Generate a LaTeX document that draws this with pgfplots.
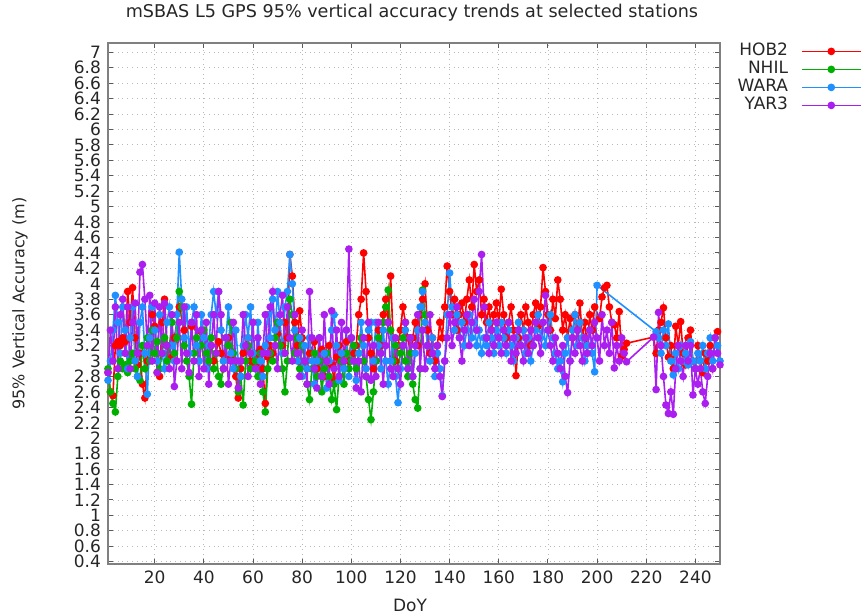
\documentclass[border=0pt]{standalone}
\usepackage{pgfplots}
\pgfplotsset{compat=1.18}
\usepackage{fontspec}
\setmainfont{DejaVu Sans}
\definecolor{cHOB}{RGB}{255,0,0}
\definecolor{cNHIL}{RGB}{0,176,0}
\definecolor{cWARA}{RGB}{30,144,255}
\definecolor{cYAR}{RGB}{170,30,240}
\begin{document}
\begin{tikzpicture}
\path[use as bounding box] (-54pt,-26pt) rectangle (378pt,282pt);
\begin{axis}[
  at={(0,0)}, anchor=south west,
  scale only axis, width=306pt, height=260.5pt,
  xmin=1, xmax=250, ymin=0.37, ymax=7.12,
  xtick={20,40,...,240},
  ytick={0.4,0.6,0.8,1,1.2,1.4,1.6,1.8,2,2.2,2.4,2.6,2.8,3,3.2,3.4,3.6,3.8,4,4.2,4.4,4.6,4.8,5,5.2,5.4,5.6,5.8,6,6.2,6.4,6.6,6.8,7},
  tick align=inside, major tick length=2.5pt,
  tick style={gray!70!black, line width=0.5pt},
  axis line style={gray, line width=0.8pt},
  grid=major, major grid style={gray!55, dotted, line width=0.4pt},
  /pgf/number format/assume math mode=true,
  ticklabel style={font=\fontsize{8.5}{10}\selectfont, text=black!85},
  title={mSBAS L5 GPS 95\% vertical accuracy trends at selected stations},
  every axis title/.style={at={(axis description cs:0.4967,1.0576)}, anchor=center, font=\fontsize{8.8}{10}\selectfont, text=black!85},
  xlabel={DoY},
  every axis x label/.style={at={(axis description cs:0.4935,-0.0787)}, anchor=center, font=\fontsize{8.5}{10}\selectfont, text=black!85},
  ylabel={95\% Vertical Accuracy (m)},
  every axis y label/.style={at={(axis description cs:-0.1438,0.5)}, rotate=90, anchor=center, font=\fontsize{8}{10}\selectfont, text=black!85},
  legend plot pos=right, legend cell align=right,
  legend style={at={(axis description cs:1,1)}, anchor=north east, xshift=71pt, yshift=0.5pt,
    draw=none, fill=none, inner sep=0pt, column sep=6.5pt, row sep=0pt,
    nodes={inner sep=0pt, text height=6.5pt, text depth=2.5pt, font=\fontsize{8.5}{10}\selectfont, text=black!85}},
  legend image code/.code={\draw[mark repeat=2, mark phase=2, #1] plot coordinates {(0pt,0pt) (14.75pt,0pt) (29.5pt,0pt)};},
  every axis plot/.append style={line width=0.8pt, mark=*, mark size=1.5pt},
]
\addplot[cHOB, mark options={fill=cHOB, draw=cHOB}] coordinates {
(1,2.85)(2,2.6)(3,2.55)(4,3.2)(5,3.25)(6,3.2)(7,3.3)(8,3.25)(9,3.9)(10,3.5)(11,3.95)(12,3.3)(13,2.95)(14,3.1)(15,2.7)(16,2.52)(17,3.0)(18,3.3)(19,3.6)(20,3.45)(21,2.85)(22,2.8)(23,3.5)(24,3.8)(25,3.2)(27,3.05)(28,3.3)(30,3.7)(32,3.4)(35,3.45)(43,3.2)(44,3.0)(46,3.25)(47,3.1)(48,2.9)(50,3.3)(51,3.05)(53,2.8)(54,2.52)(55,2.9)(56,3.1)(58,3.3)(59,3.0)(61,2.95)(62,3.1)(63,3.15)(64,2.9)(65,2.45)(66,3.05)(67,3.2)(68,3.1)(70,3.35)(72,3.2)(73,3.5)(74,3.3)(75,4.38)(76,4.1)(77,3.5)(78,3.2)(79,3.65)(80,3.3)(81,3.0)(82,2.9)(83,3.1)(85,3.25)(86,2.9)(87,3.0)(88,3.15)(89,2.8)(90,3.0)(91,3.2)(92,2.95)(93,2.75)(94,3.05)(95,3.2)(96,3.0)(97,3.1)(98,3.25)(99,3.0)(100,3.3)(101,3.1)(102,3.2)(103,3.6)(104,3.8)(105,4.4)(106,3.9)(107,3.3)(108,3.1)(109,2.9)(110,3.0)(111,3.4)(112,3.2)(113,3.6)(114,3.8)(115,3.5)(116,4.1)(117,3.3)(118,3.0)(119,3.2)(120,3.4)(121,3.7)(122,3.5)(123,3.3)(124,3.1)(125,3.3)(126,3.5)(127,3.2)(128,3.6)(129,3.8)(130,4.0)(131,3.4)(132,3.1)(133,3.3)(134,3.0)(135,3.2)(136,3.5)(137,3.3)(138,3.7)(139,4.23)(140,3.9)(141,3.6)(142,3.8)(143,3.4)(144,3.6)(145,3.75)(146,3.5)(147,3.8)(148,4.05)(149,3.7)(150,4.25)(151,3.9)(152,4.05)(153,3.6)(154,3.8)(155,3.5)(156,3.7)(157,3.4)(158,3.6)(159,3.75)(160,3.5)(161,3.93)(162,3.6)(163,3.3)(164,3.5)(165,3.7)(166,3.4)(167,2.81)(168,3.3)(169,3.6)(170,3.4)(171,3.7)(172,3.5)(173,3.2)(174,3.6)(175,3.75)(176,3.45)(177,3.7)(178,4.21)(179,3.9)(180,3.6)(181,3.4)(182,3.8)(183,3.55)(184,4.05)(185,3.8)(186,3.4)(187,3.6)(188,3.3)(189,3.55)(190,3.3)(191,3.6)(192,3.4)(193,3.75)(194,3.3)(195,3.5)(196,3.2)(197,3.6)(198,3.4)(199,3.7)(201,3.55)(202,3.83)(203,3.95)(204,3.98)(205,3.7)(206,3.5)(207,3.47)(208,3.3)(209,3.64)(210,3.06)(211,3.15)(212,3.23)(223,3.31)(224,3.1)(225,3.4)(226,3.5)(227,3.69)(228,3.3)(229,3.05)(230,3.2)(231,2.9)(232,3.45)(233,3.2)(234,3.51)(235,3.1)(236,2.95)(237,3.3)(238,3.4)(239,3.0)(240,2.9)(241,3.2)(242,3.0)(243,2.85)(244,3.1)(245,3.0)(246,3.2)(247,2.9)(248,3.3)(249,3.38)
};
\addlegendentry{HOB2}
\addplot[cNHIL, mark options={fill=cNHIL, draw=cNHIL}] coordinates {
(1,2.9)(2,2.6)(3,2.45)(4,2.34)(5,2.8)(6,3.0)(7,2.9)(8,2.95)(9,2.85)(10,3.0)(11,3.1)(12,2.9)(13,2.8)(14,2.75)(15,3.2)(16,2.9)(17,3.3)(18,3.0)(19,3.4)(20,3.1)(21,3.25)(22,2.9)(23,3.1)(24,3.3)(25,3.0)(26,3.2)(27,3.5)(28,3.1)(29,3.3)(30,3.9)(31,3.7)(32,3.2)(33,3.0)(34,2.8)(35,2.44)(36,3.1)(37,3.3)(38,3.0)(39,3.2)(40,3.4)(41,3.1)(42,3.0)(43,3.3)(44,2.9)(45,3.1)(46,2.8)(47,2.7)(48,3.0)(49,3.3)(50,3.2)(51,3.5)(52,3.1)(53,2.9)(54,2.6)(55,2.8)(56,2.43)(57,3.0)(58,3.2)(59,2.9)(60,3.1)(61,3.0)(62,2.8)(63,3.1)(64,2.6)(65,2.34)(66,2.9)(67,3.1)(68,3.0)(69,3.3)(70,3.5)(71,3.2)(72,2.9)(73,2.6)(74,3.0)(75,3.8)(76,3.6)(77,3.1)(78,3.3)(79,2.9)(80,3.2)(81,3.0)(82,2.7)(83,2.5)(84,2.9)(85,3.1)(86,2.8)(87,3.0)(88,2.6)(89,2.9)(90,3.1)(91,2.8)(92,2.5)(93,2.7)(94,2.37)(95,2.8)(96,3.0)(97,2.7)(98,3.1)(99,2.9)(100,3.0)(101,3.2)(102,2.9)(103,3.1)(104,3.3)(105,3.0)(106,2.8)(107,2.5)(108,2.24)(109,2.6)(110,3.0)(111,3.3)(112,3.1)(113,3.5)(114,3.7)(115,3.92)(116,3.4)(117,3.0)(118,3.2)(119,2.9)(120,3.1)(121,3.3)(122,3.0)(123,2.8)(124,3.1)(125,2.7)(126,2.5)(127,2.39)(128,2.9)(129,3.92)(130,3.6)(131,3.2)
};
\addlegendentry{NHIL}
\addplot[cWARA, mark options={fill=cWARA, draw=cWARA}] coordinates {
(1,2.75)(2,3.0)(3,3.4)(4,3.85)(5,3.5)(6,3.1)(7,3.7)(8,3.4)(9,2.9)(10,3.3)(11,3.7)(12,3.0)(13,2.8)(14,3.5)(15,3.7)(16,3.1)(17,2.57)(18,3.3)(19,3.7)(20,3.4)(21,3.0)(22,3.6)(23,3.1)(24,2.9)(25,3.5)(26,3.7)(27,3.2)(28,3.0)(29,3.6)(30,4.41)(31,3.8)(32,3.3)(33,3.7)(34,3.1)(35,3.5)(36,3.7)(37,3.2)(38,3.0)(39,3.6)(40,3.3)(41,2.9)(42,3.2)(43,3.6)(44,3.9)(45,3.6)(46,3.9)(47,3.4)(48,3.0)(49,3.3)(50,3.7)(51,3.1)(52,2.9)(53,3.4)(54,3.0)(55,2.8)(56,3.2)(57,3.6)(58,3.3)(59,3.7)(60,3.1)(61,2.9)(62,3.5)(63,3.0)(64,2.8)(65,3.2)(66,3.6)(67,3.3)(68,3.8)(69,3.4)(70,3.9)(71,3.5)(72,3.1)(73,3.7)(74,3.9)(75,4.38)(76,4.0)(77,3.4)(78,3.0)(79,3.3)(80,2.8)(81,3.2)(82,2.9)(83,3.3)(84,3.0)(85,2.7)(86,3.0)(87,3.3)(88,2.8)(89,3.1)(90,2.65)(91,3.0)(92,3.4)(93,3.6)(94,3.2)(95,2.75)(96,3.1)(97,2.9)(98,3.4)(99,2.8)(100,3.3)(101,3.0)(102,2.75)(103,3.1)(104,3.5)(105,3.2)(106,2.9)(107,3.4)(108,3.5)(109,3.0)(110,3.5)(111,3.2)(112,2.9)(113,3.4)(114,3.0)(115,2.7)(116,3.0)(117,3.3)(118,2.8)(119,2.46)(120,2.9)(121,3.2)(122,3.4)(123,2.9)(124,3.3)(125,2.8)(126,3.1)(127,3.4)(128,3.7)(129,3.9)(130,3.5)(131,3.2)(132,3.0)(133,3.3)(134,2.8)(135,3.1)(136,2.9)(137,2.55)(138,3.0)(139,3.6)(140,4.14)(141,3.7)(142,3.4)(143,3.6)(144,3.3)(145,3.5)(146,3.2)(147,3.4)(148,3.6)(149,3.3)(150,3.5)(151,3.2)(152,3.4)(153,3.1)(154,3.3)(155,3.2)(156,3.5)(157,3.3)(158,3.1)(159,3.4)(160,3.2)(161,3.5)(162,3.3)(163,3.1)(164,3.4)(165,3.2)(166,3.0)(167,3.3)(168,3.5)(169,3.2)(170,3.4)(171,3.1)(172,3.3)(173,3.0)(174,3.2)(175,3.4)(176,3.6)(177,3.3)(178,3.5)(179,3.2)(180,3.4)(181,3.6)(182,3.3)(183,3.1)(184,2.9)(185,3.0)(186,2.73)(187,3.1)(188,3.3)(189,3.0)(190,3.4)(191,3.6)(192,3.2)(193,3.5)(194,3.3)(195,3.0)(196,3.2)(197,3.4)(198,3.1)(199,2.86)(200,3.98)(224,3.38)(225,3.3)(226,3.1)(227,3.4)(228,3.2)(229,3.48)(230,3.0)(231,2.82)(232,3.1)(233,2.9)(234,3.2)(235,3.0)(236,3.1)(237,2.95)(238,3.25)(239,3.0)(240,2.9)(241,3.1)(242,3.0)(243,3.2)(244,2.9)(245,3.1)(246,3.3)(247,3.0)(248,3.3)(249,3.2)(250,3.0)
};
\addlegendentry{WARA}
\addplot[cYAR, mark options={fill=cYAR, draw=cYAR}] coordinates {
(1,2.85)(2,3.4)(3,3.0)(4,3.7)(5,2.9)(6,3.6)(7,3.8)(8,3.1)(9,3.7)(10,2.9)(11,3.5)(12,3.75)(13,3.1)(14,4.15)(15,4.25)(16,3.8)(17,3.2)(18,3.85)(19,3.0)(20,3.75)(21,2.85)(22,3.7)(23,3.1)(24,3.75)(25,3.2)(26,2.9)(27,3.6)(28,2.67)(29,3.0)(30,3.5)(31,2.9)(32,3.7)(33,3.1)(34,2.85)(35,3.5)(36,3.0)(37,3.6)(38,2.8)(39,3.4)(40,2.9)(41,3.5)(42,2.7)(43,3.2)(44,3.6)(45,3.1)(46,3.9)(47,3.6)(48,2.9)(49,3.3)(50,2.7)(51,3.0)(52,3.5)(53,3.0)(54,2.65)(55,3.0)(56,3.6)(57,3.2)(58,2.8)(59,3.1)(60,3.5)(61,2.9)(62,3.3)(63,2.7)(64,3.1)(65,3.6)(66,3.1)(67,3.7)(68,3.9)(69,3.2)(70,2.9)(71,3.6)(72,3.85)(73,3.1)(74,3.7)(75,3.3)(76,3.0)(77,3.6)(78,3.1)(79,2.8)(80,3.4)(81,3.0)(82,2.7)(83,3.9)(84,3.3)(85,2.9)(86,2.65)(87,3.3)(88,2.8)(89,3.6)(90,3.0)(91,2.7)(92,3.65)(93,2.9)(94,3.4)(95,2.8)(96,3.5)(97,3.0)(98,3.4)(99,4.45)(100,3.3)(101,3.0)(102,2.65)(103,3.0)(104,2.6)(105,3.3)(106,2.8)(107,3.5)(108,2.75)(109,3.2)(110,2.8)(111,3.5)(112,3.1)(113,2.7)(114,3.2)(115,3.5)(116,2.9)(117,2.8)(118,3.3)(119,2.9)(120,2.7)(121,3.2)(122,3.5)(123,2.9)(124,3.3)(125,2.8)(126,3.2)(127,3.6)(128,2.9)(129,3.4)(130,2.9)(131,3.2)(132,3.6)(133,3.1)(134,2.9)(135,3.2)(136,2.8)(137,2.54)(138,3.0)(139,3.3)(140,3.6)(141,3.2)(142,3.5)(143,3.7)(144,3.3)(145,3.0)(146,3.4)(147,3.6)(148,3.2)(149,3.5)(150,3.8)(151,3.4)(152,3.9)(153,4.38)(154,3.7)(155,3.3)(156,3.1)(157,3.4)(158,3.2)(159,3.5)(160,3.3)(161,3.1)(162,3.4)(163,3.2)(164,3.5)(165,3.0)(166,3.3)(167,3.1)(168,3.4)(169,3.2)(170,3.0)(171,3.3)(172,3.1)(173,3.4)(174,3.2)(175,3.5)(176,3.3)(177,3.1)(178,3.5)(179,3.85)(180,3.4)(181,3.2)(182,3.0)(183,3.3)(184,3.1)(185,2.9)(186,3.2)(187,2.8)(188,2.59)(189,3.0)(190,3.3)(191,3.1)(192,3.4)(193,3.2)(194,3.0)(195,3.3)(196,3.1)(197,3.4)(198,3.2)(199,3.5)(200,3.3)(201,3.0)(202,3.6)(203,3.2)(204,3.4)(205,3.1)(206,3.5)(207,2.91)(208,3.2)(209,3.0)(210,3.3)(211,3.1)(212,2.99)(223,3.31)(224,2.63)(225,3.63)(226,3.2)(227,2.8)(228,2.43)(229,2.32)(230,2.6)(231,2.31)(232,2.9)(233,3.2)(234,3.0)(235,2.8)(236,3.2)(237,3.0)(238,3.2)(239,2.56)(240,2.9)(241,2.7)(242,2.9)(243,2.6)(244,2.45)(245,2.8)(246,3.1)(247,2.9)(248,3.3)(249,3.1)(250,2.95)
};
\addlegendentry{YAR3}
\end{axis}
\end{tikzpicture}
\end{document}
